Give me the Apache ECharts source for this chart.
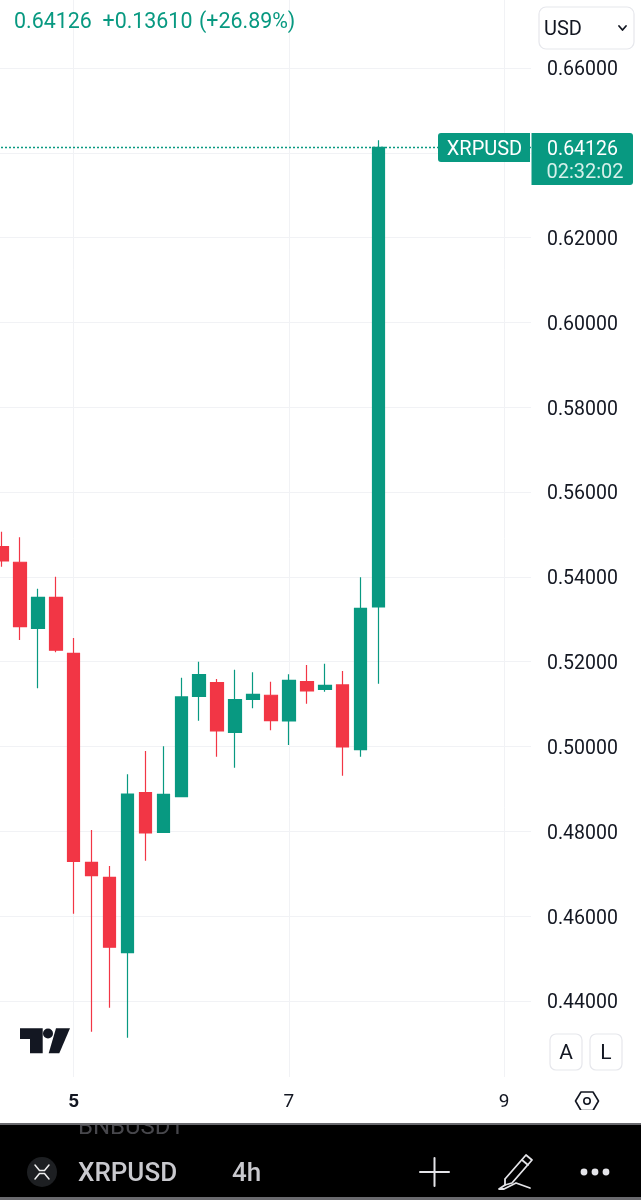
<!DOCTYPE html>
<html>
<head>
<meta charset="utf-8">
<style>
  html, body { margin: 0; padding: 0; background: #fff; }
  #chart { width: 641px; height: 1200px; }
</style>
<script src="https://cdn.jsdelivr.net/npm/echarts@6/dist/echarts.min.js"></script>
</head>
<body>
<div id="chart"></div>
<script>
// 4h candles
const opens  = [0.54712, 0.54345, 0.52788, 0.53519, 0.52199, 0.47271, 0.46917, 0.45139, 0.48912, 0.47978, 0.48818, 0.51185, 0.51506, 0.50336, 0.51114, 0.51209, 0.50603, 0.51529, 0.51350, 0.51452, 0.49926, 0.53291];
const closes = [0.54375, 0.52826, 0.53519, 0.52270, 0.47294, 0.46955, 0.45267, 0.48881, 0.47962, 0.48874, 0.51169, 0.51695, 0.50367, 0.51105, 0.51232, 0.50610, 0.51562, 0.51310, 0.51444, 0.49990, 0.53260, 0.64126];
const lows   = [0.54241, 0.52512, 0.51374, 0.52222, 0.46059, 0.43277, 0.43843, 0.43135, 0.47309, 0.47978, 0.48818, 0.50610, 0.49761, 0.49502, 0.50902, 0.50383, 0.50037, 0.51010, 0.51294, 0.49313, 0.49761, 0.51482];
const highs  = [0.55066, 0.54934, 0.53722, 0.54005, 0.52560, 0.48033, 0.47184, 0.49346, 0.49895, 0.50006, 0.51624, 0.52001, 0.51593, 0.51812, 0.51751, 0.51529, 0.51704, 0.51923, 0.51954, 0.51782, 0.53991, 0.64295];
// day labels, the empty slots are bars that have not happened yet
const dayLabels = ['', '', '', '', '5', '', '', '', '', '', '', '', '', '', '', '', '7', '', '', '', '', '', '', '', '', '', '', '', '9', ''];
const priceTicks = [0.44, 0.46, 0.48, 0.50, 0.52, 0.54, 0.56, 0.58, 0.60, 0.62, 0.64, 0.66];
const lastPrice = 0.64126;

const GREEN = '#089981';
const RED = '#F23645';
const INK = '#131722';
const FONT = 'Roboto';

const candles = opens.map((o, i) => [o, closes[i], lows[i], highs[i]]);

const chart = echarts.init(document.getElementById('chart'), null, { renderer: 'canvas' });

// Roboto sits a bit high when middle aligned, hence the +1.5
const txt = (text, x, y, fontSize, fill, extra) => ({
  type: 'text', x, y: y + 1.5, z: 20,
  style: Object.assign({ text, fontSize, fill, fontFamily: FONT, textVerticalAlign: 'middle' }, extra || {}),
});
const poly = (points, fill) => ({ type: 'polygon', z: 20, shape: { points }, style: { fill } });
const stroke = (points, color, lineWidth) => ({
  type: 'polyline', z: 20, shape: { points },
  style: { stroke: color, lineWidth, fill: null, lineCap: 'round', lineJoin: 'round' },
});
const box = (x, y, width, height, r, style, z) => ({
  type: 'rect', z: z || 15, shape: { x, y, width, height, r }, style,
});
const keyButton = (x, label) => [
  box(x, 1034, 32, 36, 6, { fill: '#fff', stroke: '#e6e7ec', lineWidth: 1.2 }),
  txt(label, x + 16, 1052, 21, INK, { textAlign: 'center' }),
];

chart.setOption({
  animation: false,
  backgroundColor: '#fff',
  grid: { left: -7, top: 0, width: 538, height: 1077, outerBoundsMode: 'none' },
  xAxis: {
    type: 'category',
    data: dayLabels,
    boundaryGap: true,
    axisLine: { show: false },
    axisTick: { show: false, alignWithLabel: true, interval: (i, v) => v !== '' },
    splitLine: {
      show: true,
      alignWithLabel: true,
      interval: (i, v) => v !== '',
      lineStyle: { color: '#f1f2f5', width: 1 },
    },
    axisLabel: {
      interval: (i, v) => v !== '',
      margin: 16,
      fontFamily: FONT,
      fontSize: 19,
      color: INK,
      formatter: (v) => (v === '5' ? '{bold|5}' : v),
      rich: { bold: { fontFamily: FONT, fontSize: 19, fontWeight: 'bold', color: INK } },
    },
  },
  yAxis: {
    type: 'value',
    position: 'right',
    min: 0.42208,
    max: 0.67603,
    scale: true,
    axisLine: { show: false },
    axisTick: { show: false, customValues: priceTicks },
    splitLine: { show: true, lineStyle: { color: '#f1f2f5', width: 1 } },
    axisLabel: {
      customValues: priceTicks,
      margin: 16,
      formatter: (v) => '{p|' + v.toFixed(5) + '}',
      rich: { p: { fontFamily: FONT, fontSize: 19.5, color: INK, padding: [5, 0, 0, 0] } },
    },
  },
  series: [
    {
      type: 'candlestick',
      data: candles,
      barWidth: 13,
      itemStyle: {
        color: GREEN,
        color0: RED,
        borderColor: GREEN,
        borderColor0: RED,
        borderWidth: 1.2,
      },
      markLine: {
        silent: true,
        symbol: 'none',
        precision: 5,
        label: { show: false },
        lineStyle: { color: GREEN, type: [2, 2], width: 1.3 },
        data: [{ yAxis: lastPrice }],
      },
    },
  ],
  graphic: [
    // legend line
    txt('0.64126', 14, 21, 21.4, GREEN),
    txt('+0.13610', 102.5, 21, 21.4, GREEN),
    txt('(+26.89%)', 199, 21, 21.4, GREEN),

    // currency select
    box(539, 7, 95, 42, 7, { fill: '#fff', stroke: '#e6e7ec', lineWidth: 1.2 }),
    txt('USD', 544, 28, 20, INK),
    stroke([[619, 26], [622.5, 30], [626, 26]], INK, 1.8),

    // last price tags
    box(438, 133, 92, 29, [3, 0, 0, 3], { fill: GREEN }),
    txt('XRPUSD', 484.5, 148, 20, '#fff', { textAlign: 'center' }),
    box(531.5, 133, 101.5, 52, [0, 3, 3, 0], { fill: GREEN }),
    txt('0.64126', 582.5, 148.5, 19.5, '#fff', { textAlign: 'center' }),
    txt('02:32:02', 585, 171, 20, '#d5f0ea', { textAlign: 'center' }),

    // logo
    poly([[20, 1028.3], [42.7, 1028.3], [42.7, 1053.3], [30, 1053.3], [30, 1039], [20, 1039]], INK),
    { type: 'circle', z: 20, shape: { cx: 48, cy: 1033.5, r: 5 }, style: { fill: INK } },
    poly([[56, 1028.3], [70, 1028.3], [59.3, 1053.3], [48.7, 1053.3]], INK),

    // auto / log and settings
    ...keyButton(550, 'A'),
    ...keyButton(590, 'L'),
    stroke([[575.5, 1101], [581, 1092], [593, 1092], [598.5, 1101], [593, 1110.5], [581, 1110.5], [575.5, 1101]], INK, 1.6),
    { type: 'circle', z: 20, shape: { cx: 587, cy: 1101, r: 3.2 }, style: { fill: 'none', stroke: INK, lineWidth: 1.6 } },

    // bottom bar
    box(0, 1123, 641, 77, 0, { fill: '#000' }, 30),
    Object.assign(txt('BNBUSDT', 78, 1126, 24, '#47474c'), { z: 31 }),
    box(0, 1110, 641, 13, 0, { fill: '#fff' }, 32),
    box(0, 1123, 641, 2, 0, { fill: '#6a6a6e' }, 33),
    box(0, 1197, 641, 3, 0, { fill: '#6a6a6e' }, 33),
    { type: 'circle', z: 33, shape: { cx: 42, cy: 1172, r: 15 }, style: { fill: '#1d1f22' } },
    Object.assign(stroke([[35, 1165], [39.5, 1170.5], [44.5, 1170.5], [49, 1165]], '#f0f0f0', 1.5), { z: 34 }),
    Object.assign(stroke([[35, 1179], [39.5, 1173.5], [44.5, 1173.5], [49, 1179]], '#f0f0f0', 1.5), { z: 34 }),
    Object.assign(txt('XRPUSD', 78, 1172.5, 26, '#c9c9ce', { fontWeight: 500 }), { z: 34 }),
    Object.assign(txt('4h', 232, 1172.5, 26, '#c9c9ce', { fontWeight: 500 }), { z: 34 }),
    Object.assign(stroke([[420, 1172], [449, 1172]], '#e4e4e8', 2), { z: 34 }),
    Object.assign(stroke([[434.5, 1158], [434.5, 1186]], '#e4e4e8', 2), { z: 34 }),
    Object.assign(stroke([[505, 1179], [526, 1155], [532, 1160], [512, 1183], [505, 1185], [505, 1179]], '#e4e4e8', 1.8), { z: 34 }),
    Object.assign(stroke([[522, 1160], [528, 1165]], '#e4e4e8', 1.8), { z: 34 }),
    Object.assign(stroke([[505, 1185], [499, 1189], [504, 1189], [516, 1183], [530, 1188]], '#e4e4e8', 1.8), { z: 34 }),
    { type: 'circle', z: 34, shape: { cx: 584, cy: 1172, r: 3.4 }, style: { fill: '#e4e4e8' } },
    { type: 'circle', z: 34, shape: { cx: 595, cy: 1172, r: 3.4 }, style: { fill: '#e4e4e8' } },
    { type: 'circle', z: 34, shape: { cx: 606, cy: 1172, r: 3.4 }, style: { fill: '#e4e4e8' } },
  ],
});

window.addEventListener('resize', () => chart.resize());
</script>
</body>
</html>
